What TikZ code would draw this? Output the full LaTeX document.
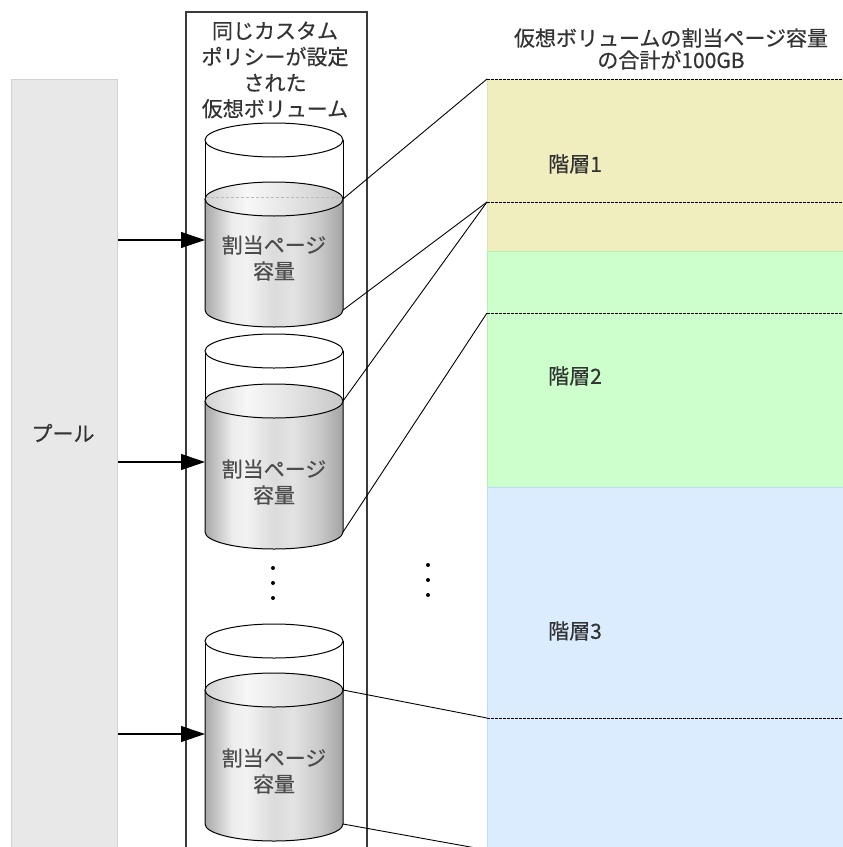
\documentclass[tikz,border=0pt]{standalone}
\usepackage{fontspec}
\newfontfamily\jp[FakeBold=0.4]{Noto Sans CJK JP}
\usetikzlibrary{arrows.meta}
\definecolor{poolfill}{HTML}{E8E8E8}
\definecolor{pooldraw}{HTML}{D2D2D2}
\definecolor{volline}{HTML}{3A3A3A}
\definecolor{tierA}{HTML}{F0EEBF}
\definecolor{tierAd}{HTML}{E6E3A8}
\definecolor{tierB}{HTML}{CCFFCC}
\definecolor{tierBd}{HTML}{B4F0B4}
\definecolor{tierC}{HTML}{DBECFE}
\definecolor{tierCd}{HTML}{C2DAF6}
\definecolor{cbA}{gray}{0.66}
\definecolor{cbB}{gray}{0.93}
\definecolor{cbC}{gray}{0.95}
\definecolor{cbD}{gray}{0.86}
\definecolor{cbE}{gray}{0.89}
\definecolor{cbF}{gray}{0.78}
\definecolor{cbG}{gray}{0.64}
\definecolor{clA}{gray}{0.82}
\definecolor{clB}{gray}{0.97}
\definecolor{clC}{gray}{0.90}
\definecolor{clD}{gray}{0.78}
\pgfdeclarehorizontalshading{cylbody}{100bp}{color(0bp)=(cbA); color(25bp)=(cbA); color(35bp)=(cbB); color(40bp)=(cbC); color(50bp)=(cbD); color(57bp)=(cbE); color(67bp)=(cbF); color(75bp)=(cbG); color(100bp)=(cbG)}
\pgfdeclarehorizontalshading{cyltop}{100bp}{color(0bp)=(clA); color(25bp)=(clA); color(40bp)=(clB); color(55bp)=(clC); color(75bp)=(clD); color(100bp)=(clD)}
\newcommand\drawcyl[4]{%
  \draw[cylline] (205,-#2) -- (205,-#3) (343,-#2) -- (343,-#3);
  \draw[cylline, fill=white] (274,-#2) ellipse [x radius=69bp, y radius=17bp];
  \shade[shading=cylbody] (205,-#3) -- (205,-#4) arc[start angle=180, end angle=360, x radius=69bp, y radius=17bp] -- (343,-#3) arc[start angle=0, end angle=180, x radius=69bp, y radius=17bp] -- cycle;
  \draw[cylline] (205,-#3) -- (205,-#4) arc[start angle=180, end angle=360, x radius=69bp, y radius=17bp] -- (343,-#3);
  \shade[shading=cyltop] (274,-#3) ellipse [x radius=69bp, y radius=17bp];
  \draw[cylline] (274,-#3) ellipse [x radius=69bp, y radius=17bp];
  \coordinate (#1l) at (343,-#3);
  \coordinate (#1b) at (343,-#4);
}
\begin{document}
\begin{tikzpicture}[x=1bp,y=1bp,
  txt/.style={font=\jp\fontsize{21bp}{26bp}\selectfont, text=black!80, inner sep=0pt, align=center},
  tier/.style={line width=1bp, anchor=north west, minimum width=370bp, inner sep=0pt},
  cylline/.style={line width=1bp, black},
  conn/.style={line width=0.9bp, black},
  dashln/.style={line width=1bp, black, dash pattern=on 2.5bp off 1.5bp},
  arr/.style={line width=1.2bp, black, -{Triangle[length=24bp, width=16bp]}},
  dot/.style={circle, fill=black, inner sep=0pt, minimum size=4bp}]
\clip (0,0) rectangle (843,-847);
\fill[white] (0,0) rectangle (843,-847);
% pool
\node[draw=pooldraw, fill=poolfill, line width=1bp, minimum width=106bp, minimum height=800bp, inner sep=0pt, anchor=north west] (pool) at (11,-79) {};
\node[txt] (pooltxt) at (63,-433) {プール};
% volume box
\node[draw=volline, line width=1.5bp, minimum width=181bp, minimum height=860bp, inner sep=0pt, anchor=north west] (volbox) at (185,-11) {};
\node[txt] (voltitle) at (275,-70) {同じカスタム\\ポリシーが設定\\された\\仮想ボリューム};
% tiers
\node[tier, fill=tierA, draw=tierAd, minimum height=172bp] (tier1) at (487,-79) {};
\node[tier, fill=tierB, draw=tierBd, minimum height=236bp] (tier2) at (487,-251) {};
\node[tier, fill=tierC, draw=tierCd, minimum height=400bp] (tier3) at (487,-487) {};
\node[txt, anchor=west] (lab1) at (548,-164) {階層1};
\node[txt, anchor=west] (lab2) at (548,-376) {階層2};
\node[txt, anchor=west] (lab3) at (548,-631) {階層3};
\node[txt, font=\jp\fontsize{21bp}{22bp}\selectfont] (rtitle) at (671,-49) {仮想ボリュームの割当ページ容量\\の合計が100GB};
% dashed boundaries
\coordinate (d1) at (487,-79);  \coordinate (d1e) at (843,-79);
\coordinate (d2) at (487,-202); \coordinate (d2e) at (843,-202);
\coordinate (d3) at (487,-313); \coordinate (d3e) at (843,-313);
\coordinate (d4) at (487,-718); \coordinate (d4e) at (843,-718);
\coordinate (d5) at (487,-850);
\draw[dashln] (d1) -- (d1e);
\draw[dashln] (d2) -- (d2e);
\draw[dashln] (d3) -- (d3e);
\draw[dashln] (d4) -- (d4e);
% cylinders
\drawcyl{ca}{140}{199}{310}
\draw[gray!55, line width=0.6bp, dash pattern=on 3bp off 2bp] (206,-197) -- (342,-197);
\drawcyl{cb}{351}{401}{532}
\drawcyl{cc}{641}{690}{824}
\node[txt, text=black!70] (v1) at (274,-258) {割当ページ\\容量};
\node[txt, text=black!70] (v2) at (274,-482) {割当ページ\\容量};
\node[txt, text=black!70] (v3) at (274,-771) {割当ページ\\容量};
% arrows
\coordinate (in1) at (205,-240);
\coordinate (in2) at (205,-462);
\coordinate (in3) at (205,-734);
\draw[arr] (pool.east |- in1) -- (in1);
\draw[arr] (pool.east |- in2) -- (in2);
\draw[arr] (pool.east |- in3) -- (in3);
% connectors
\draw[conn] (cal) -- (d1);
\draw[conn] (cab) -- (d2);
\draw[conn] (cbl) -- (d2);
\draw[conn] (cbb) -- (d3);
\draw[conn] (ccl) -- (d4);
\draw[conn] (ccb) -- (d5);
% dots
\node[dot] (da1) at (273,-568) {};
\node[dot] (da2) at (273,-583) {};
\node[dot] (da3) at (273,-598) {};
\node[dot] (db1) at (428,-565) {};
\node[dot] (db2) at (428,-580) {};
\node[dot] (db3) at (428,-595) {};
\end{tikzpicture}
\end{document}
